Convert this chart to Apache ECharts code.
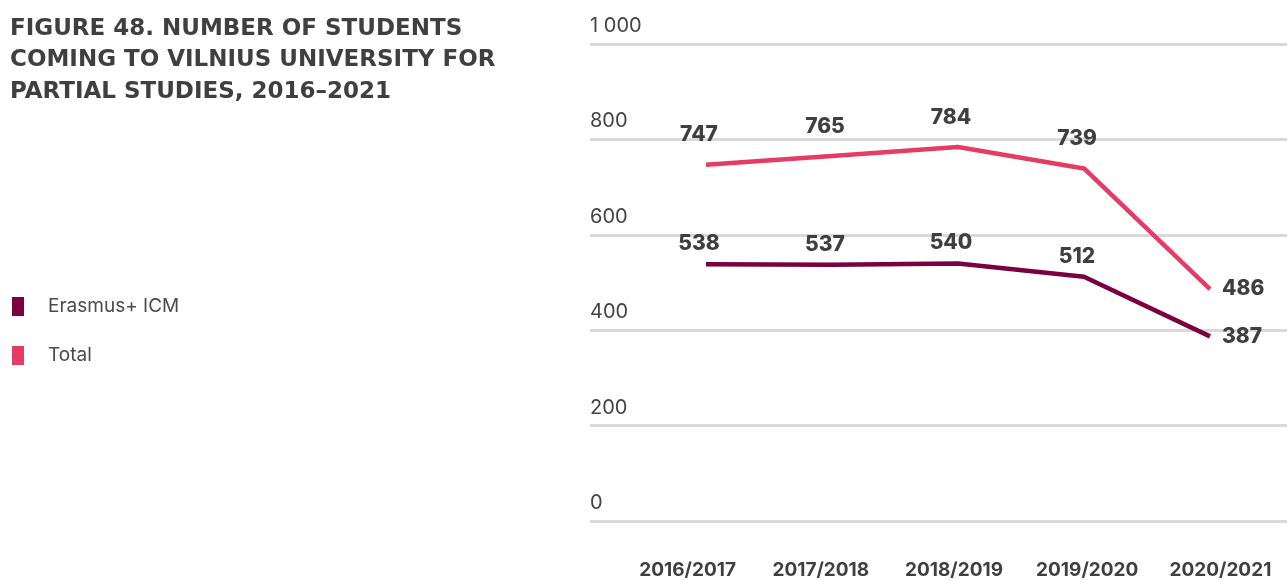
<!DOCTYPE html>
<html>
<head>
<meta charset="utf-8">
<script src="https://cdn.jsdelivr.net/npm/echarts@6/dist/echarts.min.js"></script>
<style>html,body{margin:0;padding:0;background:#fff;}#c{width:1287px;height:580px;}</style>
</head>
<body>
<div id="c"></div>
<script>
const categories = ['2016/2017', '2017/2018', '2018/2019', '2019/2020', '2020/2021'];
const erasmusValues = [538, 537, 540, 512, 387];
const totalValues = [747, 765, 784, 739, 486];
const yTicks = [0, 200, 400, 600, 800, 1000];

const TXT = '#3f3f3f';
const FONT = 'Inter, "Noto Sans", sans-serif';

function toData(vals, lastLabel) {
  return vals.map((v, i) => i === vals.length - 1 ? { value: v, label: lastLabel } : v);
}

const chart = echarts.init(document.getElementById('c'), null, { renderer: 'canvas' });
chart.setOption({
  animation: false,
  textStyle: { fontFamily: FONT },
  title: {
    text: 'FIGURE 48. NUMBER OF STUDENTS\nCOMING TO VILNIUS UNIVERSITY FOR\nPARTIAL STUDIES, 2016–2021',
    left: 5, top: 8,
    textStyle: { fontFamily: '"DejaVu Sans", sans-serif', fontSize: 23, fontWeight: 700, color: TXT, lineHeight: 31.5 }
  },
  legend: {
    orient: 'vertical', left: 7, top: 292,
    itemWidth: 12, itemHeight: 19, itemGap: 30,
    icon: 'rect',
    data: ['Erasmus+ ICM', 'Total'],
    textStyle: { fontFamily: FONT, fontSize: 19, color: '#4a4a4a', padding: [0, 0, 0, 19] }
  },
  grid: [
    { left: 590, right: 0, top: 44, bottom: 59 },
    { left: 621, right: 0, top: 44, bottom: 59 },
    { left: 706, right: 77, top: 44, bottom: 59 }
  ],
  xAxis: [
    { gridIndex: 0, type: 'category', data: categories, show: false },
    { gridIndex: 1, type: 'category', data: categories, boundaryGap: true,
      axisLine: { show: false }, axisTick: { show: false },
      axisLabel: { margin: 40, fontSize: 19, fontWeight: 700, color: TXT, fontFamily: FONT, interval: 0 } },
    { gridIndex: 2, type: 'category', data: categories, boundaryGap: false, show: false }
  ],
  yAxis: [
    { gridIndex: 0, type: 'value', min: 0, max: 1000, interval: 200,
      axisLine: { show: false }, axisTick: { show: false },
      splitLine: { show: true, lineStyle: { color: '#d9d9d9', width: 3 } },
      axisLabel: {
        inside: true, align: 'left', verticalAlign: 'bottom', margin: 0,
        padding: [0, 0, 8, 0], fontSize: 20, color: '#444', fontFamily: FONT,
        formatter: v => yTicks.includes(v) ? String(v).replace(/\B(?=(\d{3})+(?!\d))/g, ' ') : ''
      } },
    { gridIndex: 1, type: 'value', min: 0, max: 1000, interval: 200, show: false, splitLine: { show: false } },
    { gridIndex: 2, type: 'value', min: 0, max: 1000, interval: 200, show: false, splitLine: { show: false } }
  ],
  series: [
    {
      name: 'Erasmus+ ICM', type: 'line', xAxisIndex: 2, yAxisIndex: 2,
      data: toData(erasmusValues, { position: 'right', distance: 12, offset: [0, 0] }),
      color: '#7a0040',
      symbol: 'circle', symbolSize: 0, showSymbol: true,
      lineStyle: { width: 4.5, color: '#7a0040' },
      label: { show: true, position: 'top', distance: 10, offset: [-7, 0],
        fontSize: 21, fontWeight: 800, color: TXT, fontFamily: FONT }
    },
    {
      name: 'Total', type: 'line', xAxisIndex: 2, yAxisIndex: 2,
      data: toData(totalValues, { position: 'right', distance: 12, offset: [0, 0] }),
      color: '#e63c64',
      symbol: 'circle', symbolSize: 0, showSymbol: true,
      lineStyle: { width: 4.5, color: '#e63c64' },
      label: { show: true, position: 'top', distance: 19, offset: [-7, 0],
        fontSize: 21, fontWeight: 800, color: TXT, fontFamily: FONT }
    }
  ]
});
</script>
</body>
</html>
